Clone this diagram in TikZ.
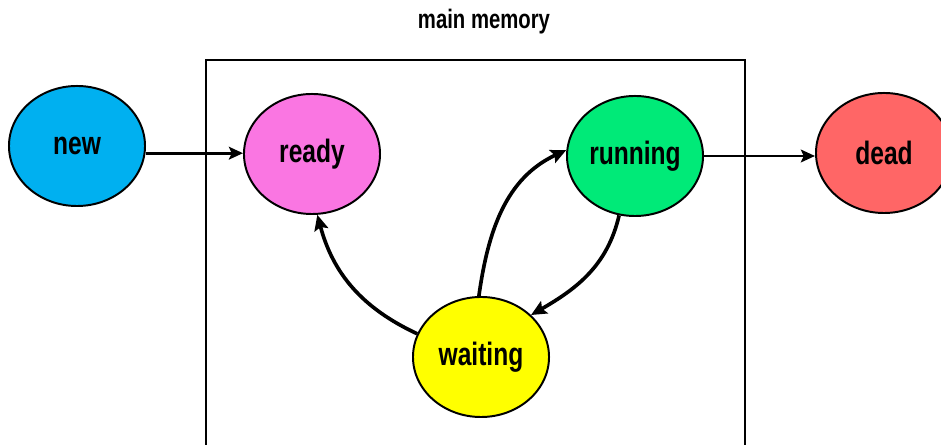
\documentclass[tikz,border=0pt]{standalone}
\usepackage{fontspec}
\setmainfont{Liberation Sans}[FakeStretch=0.76]
\usepackage{tikz}
\usetikzlibrary{shapes.geometric,arrows.meta}
\definecolor{NewColor}{RGB}{0,176,240}
\definecolor{ReadyColor}{RGB}{250,118,226}
\definecolor{RunColor}{RGB}{0,234,120}
\definecolor{WaitColor}{RGB}{255,255,0}
\definecolor{DeadColor}{RGB}{255,102,102}
\tikzset{state/.style={ellipse,draw,line width=1.4pt,minimum width=3.4cm,minimum height=3cm,inner sep=0pt,font=\bfseries\fontsize{23}{26}\selectfont},
	flow/.style={-{Stealth[length=10pt,width=9pt,inset=2pt]},line width=2pt},
	curvedflow/.style={-{Stealth[length=11pt,width=10pt,inset=2pt]},line width=2.6pt}}

\begin{document}
\begin{tikzpicture}[x=0.025cm,y=0.025cm]
	\useasboundingbox (0,0) rectangle (941,445);
	\draw[line width=1.6pt] (206,-10) -- (206,385) -- (745,385) -- (745,-10);
	\node (mem) at (484,423) {\bfseries\fontsize{19}{22}\selectfont main memory};
	\node[state,fill=NewColor] (new) at (77,299) {new};
	\node[state,fill=ReadyColor] (ready) at (312,291) {ready};
	\node[state,fill=RunColor] (running) at (635,289) {running};
	\node[state,fill=WaitColor] (waiting) at (481,88) {waiting};
	\node[state,fill=DeadColor] (dead) at (884,292) {dead};
	\draw[flow] (new.-6) -- (new.-6 -| ready.west);
	\draw[flow] (running.east) -- (running.east -| dead.west);
	\draw[curvedflow] (waiting.160) to[out=155,in=-75] (ready.-85);
	\draw[curvedflow] (waiting.92) to[out=82,in=-155] (running.175);
	\draw[curvedflow] (running.-105) to[out=-103,in=30] (waiting.40);
\end{tikzpicture}
\end{document}
